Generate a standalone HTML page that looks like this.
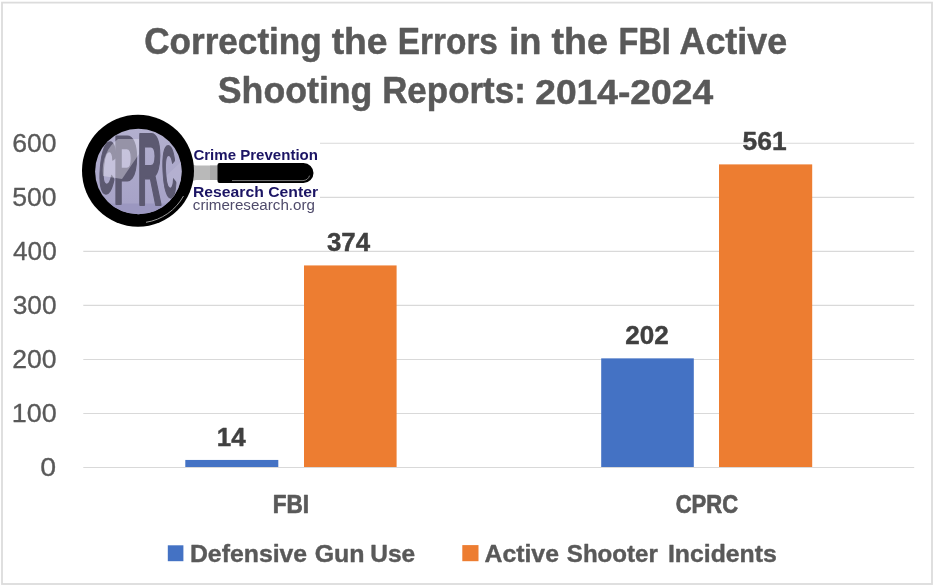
<!DOCTYPE html>
<html lang="en"><head><meta charset="utf-8"><title>Correcting the Errors in the FBI Active Shooting Reports: 2014-2024</title>
<style>html,body{margin:0;padding:0;background:#fff}svg{display:block}text{font-family:"Liberation Sans", sans-serif}</style></head><body>
<svg width="936" height="588" viewBox="0 0 936 588">
<rect x="0" y="0" width="936" height="588" fill="#fff"/>
<rect x="2" y="2.6" width="930" height="581.4" fill="none" stroke="#dcdcdc" stroke-width="1.8"/>
<line x1="83.3" x2="914.2" y1="467.50" y2="467.50" stroke="#d9d9d9" stroke-width="1.1"/>
<line x1="83.3" x2="914.2" y1="413.47" y2="413.47" stroke="#d9d9d9" stroke-width="1.1"/>
<line x1="83.3" x2="914.2" y1="359.44" y2="359.44" stroke="#d9d9d9" stroke-width="1.1"/>
<line x1="83.3" x2="914.2" y1="305.41" y2="305.41" stroke="#d9d9d9" stroke-width="1.1"/>
<line x1="83.3" x2="914.2" y1="251.38" y2="251.38" stroke="#d9d9d9" stroke-width="1.1"/>
<line x1="83.3" x2="914.2" y1="197.35" y2="197.35" stroke="#d9d9d9" stroke-width="1.1"/>
<line x1="83.3" x2="914.2" y1="143.32" y2="143.32" stroke="#d9d9d9" stroke-width="1.1"/>
<rect x="185.3" y="459.94" width="93.0" height="7.06" fill="#4472c4"/>
<rect x="304.0" y="265.43" width="92.6" height="201.57" fill="#ed7d31"/>
<rect x="601.2" y="358.36" width="92.6" height="108.64" fill="#4472c4"/>
<rect x="719.0" y="164.39" width="93.2" height="302.61" fill="#ed7d31"/>
<rect x="167.8" y="545.3" width="15.6" height="15.9" fill="#4472c4"/>
<rect x="462.3" y="545.1" width="16.2" height="16.1" fill="#ed7d31"/>
<text x="144.13" y="54.2" font-size="36" font-weight="bold" fill="#595959" textLength="177.65" lengthAdjust="spacingAndGlyphs" stroke="#595959" stroke-width="0.5" stroke-linejoin="round">Correcting</text>
<text x="331.71" y="54.2" font-size="36" font-weight="bold" fill="#595959" textLength="55.87" lengthAdjust="spacingAndGlyphs" stroke="#595959" stroke-width="0.5" stroke-linejoin="round">the</text>
<text x="397.84" y="54.2" font-size="36" font-weight="bold" fill="#595959" textLength="100.07" lengthAdjust="spacingAndGlyphs" stroke="#595959" stroke-width="0.5" stroke-linejoin="round">Errors</text>
<text x="509.27" y="54.2" font-size="36" font-weight="bold" fill="#595959" textLength="32.22" lengthAdjust="spacingAndGlyphs" stroke="#595959" stroke-width="0.5" stroke-linejoin="round">in</text>
<text x="551.60" y="54.2" font-size="36" font-weight="bold" fill="#595959" textLength="56.39" lengthAdjust="spacingAndGlyphs" stroke="#595959" stroke-width="0.5" stroke-linejoin="round">the</text>
<text x="618.62" y="54.2" font-size="36" font-weight="bold" fill="#595959" textLength="52.24" lengthAdjust="spacingAndGlyphs" stroke="#595959" stroke-width="0.5" stroke-linejoin="round">FBI</text>
<text x="679.50" y="54.2" font-size="36" font-weight="bold" fill="#595959" textLength="107.72" lengthAdjust="spacingAndGlyphs" stroke="#595959" stroke-width="0.5" stroke-linejoin="round">Active</text>
<text x="217.80" y="103.3" font-size="36" font-weight="bold" fill="#595959" textLength="154.61" lengthAdjust="spacingAndGlyphs" stroke="#595959" stroke-width="0.5" stroke-linejoin="round">Shooting</text>
<text x="382.13" y="103.3" font-size="36" font-weight="bold" fill="#595959" textLength="143.69" lengthAdjust="spacingAndGlyphs" stroke="#595959" stroke-width="0.5" stroke-linejoin="round">Reports:</text>
<text x="535.22" y="103.8" font-size="34.8" font-weight="bold" fill="#595959" textLength="177.93" lengthAdjust="spacingAndGlyphs" stroke="#595959" stroke-width="0.5" stroke-linejoin="round">2014-2024</text>
<text x="40.39" y="476.2" font-size="25" font-weight="normal" fill="#595959" textLength="15.83" lengthAdjust="spacingAndGlyphs" stroke="#595959" stroke-width="0.3" stroke-linejoin="round">0</text>
<text x="11.85" y="422.2" font-size="25" font-weight="normal" fill="#595959" textLength="45.01" lengthAdjust="spacingAndGlyphs" stroke="#595959" stroke-width="0.3" stroke-linejoin="round">100</text>
<text x="12.22" y="368.1" font-size="25" font-weight="normal" fill="#595959" textLength="44.38" lengthAdjust="spacingAndGlyphs" stroke="#595959" stroke-width="0.3" stroke-linejoin="round">200</text>
<text x="12.72" y="314.1" font-size="25" font-weight="normal" fill="#595959" textLength="43.86" lengthAdjust="spacingAndGlyphs" stroke="#595959" stroke-width="0.3" stroke-linejoin="round">300</text>
<text x="12.97" y="260.1" font-size="25" font-weight="normal" fill="#595959" textLength="43.77" lengthAdjust="spacingAndGlyphs" stroke="#595959" stroke-width="0.3" stroke-linejoin="round">400</text>
<text x="12.22" y="206.1" font-size="25" font-weight="normal" fill="#595959" textLength="44.38" lengthAdjust="spacingAndGlyphs" stroke="#595959" stroke-width="0.3" stroke-linejoin="round">500</text>
<text x="12.22" y="152.0" font-size="25" font-weight="normal" fill="#595959" textLength="44.38" lengthAdjust="spacingAndGlyphs" stroke="#595959" stroke-width="0.3" stroke-linejoin="round">600</text>
<text x="216.78" y="445.8" font-size="25" font-weight="bold" fill="#404040" textLength="28.93" lengthAdjust="spacingAndGlyphs" stroke="#404040" stroke-width="0.4" stroke-linejoin="round">14</text>
<text x="326.98" y="250.8" font-size="25" font-weight="bold" fill="#404040" textLength="43.19" lengthAdjust="spacingAndGlyphs" stroke="#404040" stroke-width="0.4" stroke-linejoin="round">374</text>
<text x="625.19" y="344.2" font-size="25" font-weight="bold" fill="#404040" textLength="43.48" lengthAdjust="spacingAndGlyphs" stroke="#404040" stroke-width="0.4" stroke-linejoin="round">202</text>
<text x="742.63" y="149.7" font-size="25" font-weight="bold" fill="#404040" textLength="44.06" lengthAdjust="spacingAndGlyphs" stroke="#404040" stroke-width="0.4" stroke-linejoin="round">561</text>
<text x="272.72" y="513.3" font-size="25" font-weight="bold" fill="#595959" textLength="36.28" lengthAdjust="spacingAndGlyphs" stroke="#595959" stroke-width="0.7" stroke-linejoin="round">FBI</text>
<text x="675.70" y="513.3" font-size="25" font-weight="bold" fill="#595959" textLength="62.41" lengthAdjust="spacingAndGlyphs" stroke="#595959" stroke-width="0.7" stroke-linejoin="round">CPRC</text>
<text x="189.96" y="561.7" font-size="24.5" font-weight="bold" fill="#595959" textLength="117.23" lengthAdjust="spacingAndGlyphs" stroke="#595959" stroke-width="0.4" stroke-linejoin="round">Defensive</text>
<text x="314.65" y="561.7" font-size="24.5" font-weight="bold" fill="#595959" textLength="49.93" lengthAdjust="spacingAndGlyphs" stroke="#595959" stroke-width="0.4" stroke-linejoin="round">Gun</text>
<text x="370.19" y="561.7" font-size="24.5" font-weight="bold" fill="#595959" textLength="44.94" lengthAdjust="spacingAndGlyphs" stroke="#595959" stroke-width="0.4" stroke-linejoin="round">Use</text>
<text x="484.49" y="561.7" font-size="24.5" font-weight="bold" fill="#595959" textLength="74.51" lengthAdjust="spacingAndGlyphs" stroke="#595959" stroke-width="0.4" stroke-linejoin="round">Active</text>
<text x="566.84" y="561.7" font-size="24.5" font-weight="bold" fill="#595959" textLength="91.00" lengthAdjust="spacingAndGlyphs" stroke="#595959" stroke-width="0.4" stroke-linejoin="round">Shooter</text>
<text x="667.96" y="561.7" font-size="24.5" font-weight="bold" fill="#595959" textLength="108.79" lengthAdjust="spacingAndGlyphs" stroke="#595959" stroke-width="0.4" stroke-linejoin="round">Incidents</text>
<g id="logo">
<rect x="80" y="110" width="240" height="120" fill="#fff"/>
<defs>
<clipPath id="lens"><ellipse cx="138.4" cy="171.5" rx="43.3" ry="42.8"/></clipPath>
<linearGradient id="lensg" x1="0" y1="0" x2="0" y2="1"><stop offset="0" stop-color="#b3b0cf"/><stop offset="1" stop-color="#a5a1c6"/></linearGradient>
</defs>
<!-- handle -->
<path d="M190 164.2 L196 165.6 L218 165.6 L218 180 L196 180 L190 181.6 Z" fill="#b9b9b9"/>
<rect x="210" y="165.6" width="8" height="14.4" fill="#a9a9a9"/>
<path d="M219.5 163 H303.5 a10 10 0 0 1 0 20 H219.5 a2 2 0 0 1 -2 -2 V165 a2 2 0 0 1 2 -2 Z" fill="#000"/>
<path d="M232 180.6 H303 a7.5 7.5 0 0 0 6.6 -5" fill="none" stroke="#8a8a8a" stroke-width="0.9"/>
<!-- ring -->
<circle cx="138" cy="170.7" r="56" fill="#000"/>
<path d="M146 222.3 A52 52 0 0 0 183.5 196" fill="none" stroke="#9a9a9a" stroke-width="1"/>
<ellipse cx="138.4" cy="171.5" rx="43.3" ry="42.8" fill="url(#lensg)"/>
<g clip-path="url(#lens)">
<rect x="90" y="203.5" width="100" height="20" fill="#9b97c0"/>
<path d="M166 176 L183 160 L183 200 L170 206 Z" fill="#b9b6d4" opacity="0.6"/>
<g fill="#5c5971" stroke="#5c5971" stroke-linejoin="round" font-weight="bold" vector-effect="non-scaling-stroke">
<text transform="translate(97.3 191.8) rotate(5) scale(0.225 0.715)" font-size="100" stroke-width="2.2" vector-effect="non-scaling-stroke" x="0" y="0">C</text>
<text transform="translate(113.4 203.0) scale(0.365 0.965)" font-size="100" stroke-width="2.2" vector-effect="non-scaling-stroke" x="0" y="0">P</text>
<text transform="translate(137.6 205.3) scale(0.335 1.02)" font-size="100" stroke-width="2.2" vector-effect="non-scaling-stroke" x="0" y="0">R</text>
<text transform="translate(163.6 197) rotate(-3) scale(0.19 0.72)" font-size="100" stroke-width="2.2" vector-effect="non-scaling-stroke" x="0" y="0">C</text>
</g>
<path d="M103 176 C101 160 108 146 118 139 L139 139 L139 154 L122 179 Z" fill="#e6e5f2" opacity="0.42"/>
</g>
<!-- logo text -->
<text x="193.4" y="159.6" font-size="14.8" font-weight="bold" fill="#1b1464" textLength="124.6" lengthAdjust="spacingAndGlyphs">Crime Prevention</text>
<text x="193.0" y="196.7" font-size="14.8" font-weight="bold" fill="#1b1464" textLength="125.0" lengthAdjust="spacingAndGlyphs">Research Center</text>
<text x="192.8" y="209.8" font-size="15.4" font-weight="normal" fill="#4f4b6b" textLength="122.2" lengthAdjust="spacingAndGlyphs">crimeresearch.org</text>
</g>

</svg></body></html>
